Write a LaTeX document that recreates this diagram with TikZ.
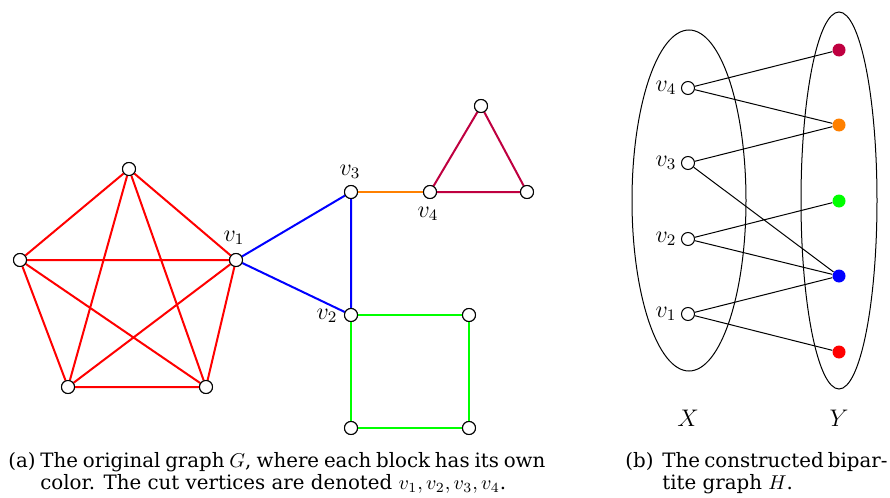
\documentclass[tikz,border=0pt]{standalone}
\usepackage{fontspec}
\setmainfont{DejaVu Serif}
\begin{document}
\begin{tikzpicture}[x=0.5pt,y=-0.5pt,
  vtx/.style={circle,draw=black,fill=white,line width=0.5pt,minimum size=6.5pt,inner sep=0pt},
  dot/.style={circle,fill=#1,minimum size=6.5pt,inner sep=0pt},
  cedge/.style={line width=1pt,#1},
  bedge/.style={line width=0.5pt,black},
  lab/.style={inner sep=0pt,font=\large},
  captxt/.style={inner sep=0pt,anchor=base west,font=\fontsize{9.9}{11.5}\selectfont}]
\useasboundingbox (0,0) rectangle (890,498);
% ---- graph G ----
\node[vtx] (p1) at (129,169) {};
\node[vtx] (p2) at (20,260) {};
\node[vtx] (v1) at (236,260) {};
\node[vtx] (p4) at (68,387) {};
\node[vtx] (p5) at (206,387) {};
\node[vtx] (v3) at (351,192) {};
\node[vtx] (v4) at (430,192) {};
\node[vtx] (t1) at (481,106) {};
\node[vtx] (t2) at (527,192) {};
\node[vtx] (v2) at (351,315) {};
\node[vtx] (s1) at (469,315) {};
\node[vtx] (s2) at (469,428) {};
\node[vtx] (s3) at (351,428) {};
\draw[cedge=red] (p1)--(p2) (p1)--(v1) (p1)--(p4) (p1)--(p5)
  (p2)--(v1) (p2)--(p4) (p2)--(p5) (v1)--(p4) (v1)--(p5) (p4)--(p5);
\draw[cedge=blue] (v1)--(v3) (v1)--(v2) (v3)--(v2);
\draw[cedge=orange] (v3)--(v4);
\draw[cedge=purple] (v4)--(t1) (t1)--(t2) (t2)--(v4);
\draw[cedge=green] (v2)--(s1) (s1)--(s2) (s2)--(s3) (s3)--(v2);
\foreach \n in {p1,p2,v1,p4,p5,v3,v4,t1,t2,v2,s1,s2,s3}
  \node[vtx] at (\n) {};
\node[lab] (lv1) at (234,238) {$v_1$};
\node[lab] (lv2) at (327,316) {$v_2$};
\node[lab] (lv3) at (350,172) {$v_3$};
\node[lab] (lv4) at (428,214) {$v_4$};
% ---- bipartite H ----
\draw[line width=0.5pt] (689,200.5) ellipse [x radius=57,y radius=170.5];
\draw[line width=0.5pt] (839,200.5) ellipse [x radius=38,y radius=188.5];
\node[vtx] (x4) at (688,88) {};
\node[vtx] (x3) at (688,163) {};
\node[vtx] (x2) at (688,239) {};
\node[vtx] (x1) at (688,314) {};
\node[dot=purple] (y1) at (839,50) {};
\node[dot=orange] (y2) at (839,125) {};
\node[dot=green] (y3) at (839,201) {};
\node[dot=blue] (y4) at (839,276) {};
\node[dot=red] (y5) at (839,352) {};
\draw[bedge] (x4)--(y1) (x4)--(y2) (x3)--(y2) (x3)--(y4)
  (x2)--(y3) (x2)--(y4) (x1)--(y4) (x1)--(y5);
\node[lab] (bx4) at (666,88) {$v_4$};
\node[lab] (bx3) at (666,163) {$v_3$};
\node[lab] (bx2) at (666,239) {$v_2$};
\node[lab] (bx1) at (666,314) {$v_1$};
\node[lab] (lX) at (688,418) {$X$};
\node[lab] (lY) at (839,418) {$Y$};
% ---- captions ----
\node[captxt] (ca) at (8,467) {(a)};
\node[captxt] (ca1) at (40,467) {\makebox[252.5pt][s]{The original graph $G$, where each block has its own}};
\node[captxt] (ca2) at (40,489) {color. The cut vertices are denoted $v_1, v_2, v_3, v_4$.};
\node[captxt] (cb) at (625,467) {(b)};
\node[captxt] (cb1) at (662,467) {\makebox[112.5pt][s]{The constructed bipar-}};
\node[captxt] (cb2) at (662,489) {tite graph $H$.};
\end{tikzpicture}
\end{document}
